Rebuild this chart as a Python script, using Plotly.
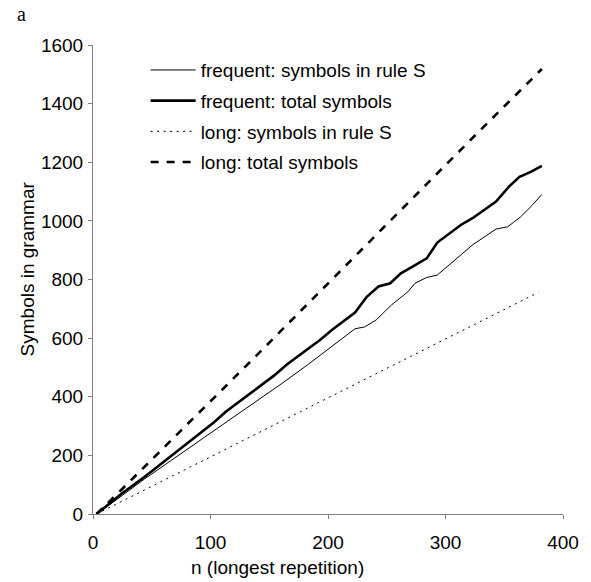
import plotly.graph_objects as go

# frequent: total symbols
freq_total_n = [3, 14, 24, 44, 64, 85, 103, 113, 124, 134, 144, 154, 165, 174, 184, 194, 203, 213, 223,
                233, 243, 253, 262, 272, 284, 293, 303, 313, 323, 333, 343, 354, 363, 373, 382]
freq_total_v = [0, 36, 68, 127, 190, 258, 313, 349, 382, 413, 443, 472, 510, 536, 565, 596, 627, 658, 687,
                741, 776, 787, 821, 844, 872, 926, 955, 986, 1009, 1037, 1066, 1117, 1150, 1168, 1188]

# frequent: symbols in rule S
freq_s_n = [3, 14, 44, 96, 124, 133, 152, 161, 183, 203, 223, 231, 241, 254, 260, 268, 274, 284, 293,
            310, 323, 343, 353, 364, 373, 382]
freq_s_v = [0, 31, 120, 264, 343, 366, 421, 446, 510, 570, 632, 638, 662, 713, 732, 758, 787, 807, 815,
            872, 918, 972, 980, 1014, 1050, 1090]

# long: symbols in rule S
long_s_n = [3, 148, 268, 379]
long_s_v = [0, 292, 535, 756]

# long: total symbols
long_total_n = [3, 24, 134, 224, 324, 382]
long_total_v = [0, 82, 520, 884, 1287, 1518]

names = ["frequent: symbols in rule S", "frequent: total symbols",
         "long: symbols in rule S", "long: total symbols"]
x_ticks = [0, 100, 200, 300, 400]
y_ticks = [0, 200, 400, 600, 800, 1000, 1200, 1400, 1600]

fig = go.Figure()
fig.add_trace(go.Scatter(x=freq_s_n, y=freq_s_v, mode="lines", name=names[0], legendgroup="a",
                         line=dict(color="black", width=1)))
fig.add_trace(go.Scatter(x=freq_total_n, y=freq_total_v, mode="lines", name=names[1], legendgroup="b",
                         line=dict(color="black", width=2.6)))
fig.add_trace(go.Scatter(x=long_s_n, y=long_s_v, mode="lines", name=names[2], legendgroup="c",
                         line=dict(color="black", width=1, dash="2px,4.5px")))
fig.add_trace(go.Scatter(x=long_total_n, y=long_total_v, mode="lines", name=names[3], legendgroup="d",
                         line=dict(color="black", width=2.6, dash="8px,8px")))

font = "Arial, Liberation Sans, sans-serif"
axis_common = dict(showgrid=False, zeroline=False, showline=True, linecolor="#808080", linewidth=1,
                   ticks="outside", ticklen=4, tickcolor="#808080", tickfont=dict(size=19, color="black"))

fig.update_layout(
    width=591, height=582,
    margin=dict(l=93, r=25, t=45, b=68),
    paper_bgcolor="white", plot_bgcolor="white",
    font=dict(family=font, size=19, color="black"),
    showlegend=True,
    legend=dict(x=0.112, y=0.987, xanchor="left", yanchor="top", bgcolor="rgba(0,0,0,0)",
                font=dict(size=19), itemwidth=45, tracegroupgap=3),
    xaxis=dict(range=[0, 400], tickvals=x_ticks, ticklabelstandoff=7, **axis_common),
    yaxis=dict(range=[0, 1600], tickvals=y_ticks, ticklabelstandoff=1, **axis_common),
    annotations=[
        dict(text="a", xref="paper", yref="paper", x=-0.167, y=1.094, showarrow=False,
             xanchor="left", yanchor="top",
             font=dict(family="Times New Roman, Liberation Serif, serif", size=20)),
        dict(text="n (longest repetition)", xref="paper", yref="paper",
             x=(279 - 93) / 473, y=(514 - 567) / 469, showarrow=False,
             xanchor="center", yanchor="middle", font=dict(size=19)),
        dict(text="Symbols in grammar", xref="paper", yref="paper", textangle=-90,
             x=(27 - 93) / 473, y=(514 - 269) / 469, showarrow=False,
             xanchor="center", yanchor="middle", font=dict(size=19)),
    ],
)

fig.write_html("out.html")
